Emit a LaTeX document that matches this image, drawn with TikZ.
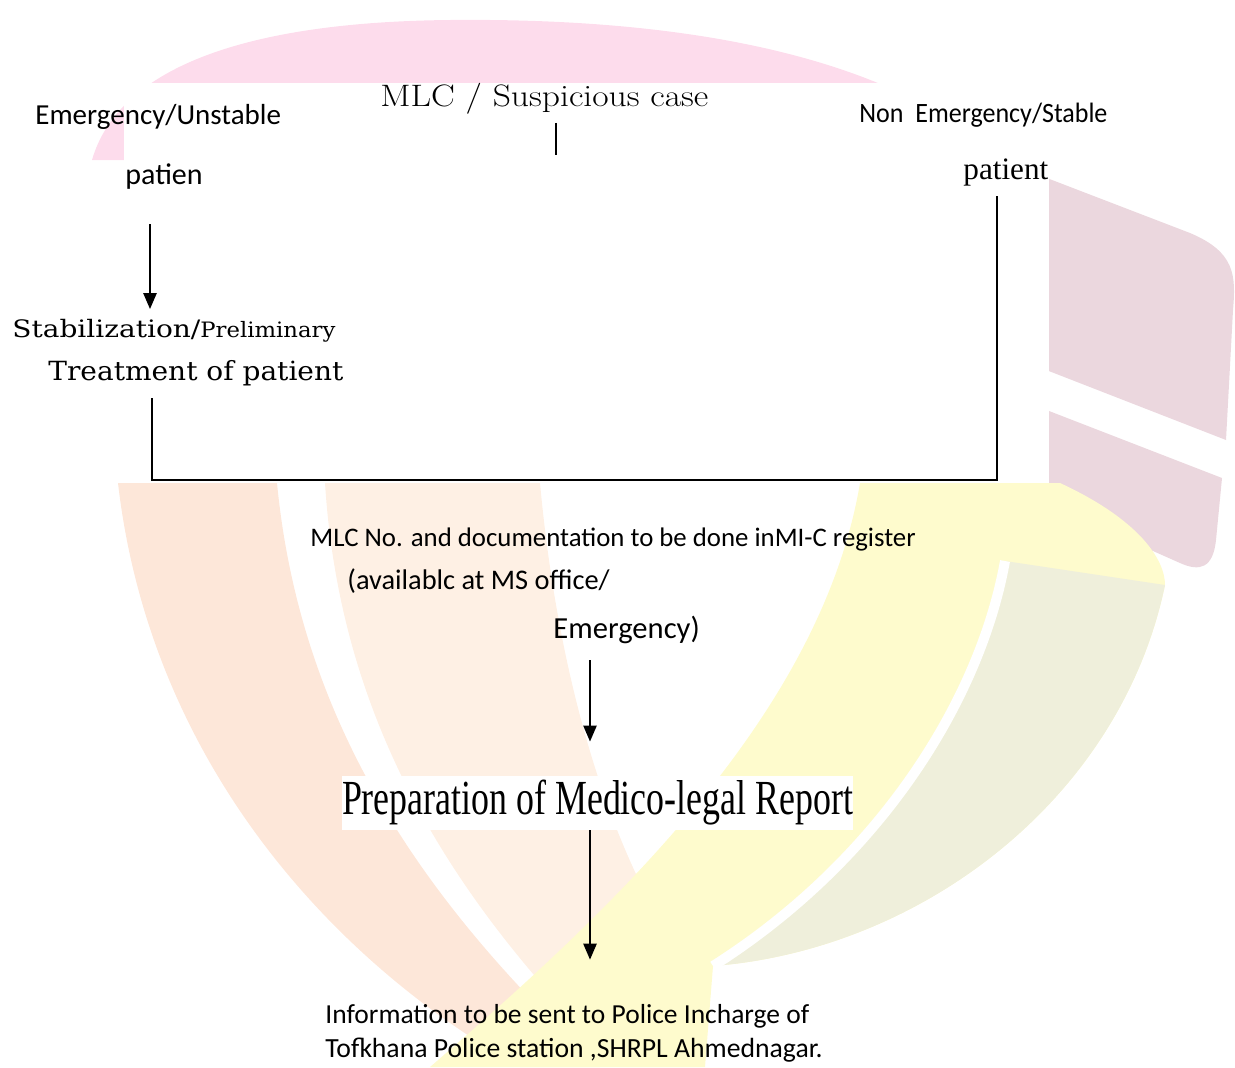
\documentclass[tikz,border=0pt]{standalone}
\usepackage{fontspec}
\setmainfont{Carlito}
\newfontfamily\tnrfont{Liberation Serif}
\newfontfamily\cmbfont{DejaVu Serif}
\newfontfamily\lmfont{Latin Modern Roman}
\usetikzlibrary{arrows.meta}
\definecolor{pinkwm}{HTML}{FDDCEC}
\definecolor{rosewm}{HTML}{EBD7DE}
\definecolor{orangewm}{HTML}{FDE7D9}
\definecolor{peachwm}{HTML}{FEF0E4}
\definecolor{yellowwm}{HTML}{FEFBCD}
\definecolor{olivewm}{HTML}{EFEFDB}
\tikzset{>={Triangle[width=6.5pt,length=8pt]}}
\tikzset{ln/.style={line width=1.4pt}, arr/.style={line width=1.2pt,->}}
\tikzset{lbl/.style={inner sep=0pt, anchor=west}}
\newcommand{\fitw}[2]{\resizebox{#1}{\height}{#2}}

\begin{document}
\begin{tikzpicture}[x=0.5pt,y=-0.5pt]
\useasboundingbox (0,0) rectangle (1235,1067);
% watermark behind the chart
\fill[pinkwm] (92,160) .. controls (118,70) and (240,22) .. (450,20) .. controls (650,18) and (800,45) .. (905,95) -- (905,200) -- (124,200) -- (124,160) -- cycle;
\fill[rosewm] (1000,160) -- (1190,233) .. controls (1235,252) and (1236,275) .. (1233,310) -- (1226,440) -- (1000,352) -- cycle;
\fill[rosewm] (1000,392) -- (1222,478) -- (1216,540) .. controls (1213,568) and (1200,572) .. (1180,563) -- (1000,483) -- cycle;
\fill[orangewm] (118,483) -- (277,483) .. controls (300,720) and (420,900) .. (600,1067) -- (520,1067) .. controls (330,960) and (150,760) .. (118,483) -- cycle;
\fill[peachwm] (325,483) -- (540,483) .. controls (560,700) and (620,880) .. (700,980) -- (700,1067) -- (620,1067) .. controls (450,900) and (340,720) .. (325,483) -- cycle;
\fill[yellowwm] (860,483) -- (1060,483) .. controls (1140,520) and (1165,560) .. (1165,585) .. controls (1120,800) and (920,950) .. (713,966) -- (705,1067) -- (430,1067) .. controls (600,920) and (820,720) .. (860,483) -- cycle;
\fill[olivewm] (1165,585) .. controls (1120,800) and (920,950) .. (713,966) .. controls (880,860) and (980,700) .. (1005,561) -- cycle;
\draw[white, line width=5pt] (1005,561) .. controls (980,700) and (880,860) .. (713,966);
\fill[white] (124,83) rectangle (1049,483);

% labels
\node[lbl, font=\fontsize{14.5}{17}\selectfont] (emL) at (35,117) {Emergency/Unstable};
\node[lbl, font=\lmfont\fontsize{15.5}{18}\selectfont] (mlc) at (380,99) {\fitw{164pt}{MLC / Suspicious case}};
\node[lbl, font=\fontsize{14}{16}\selectfont] (emR) at (859,115) {\fitw{124pt}{Non\ \ Emergency/Stable}};
\node[lbl, font=\fontsize{15}{18}\selectfont] (patL) at (125,177) {patien};
\node[lbl, font=\tnrfont\fontsize{15.6}{18}\selectfont] (patR) at (963,172) {patient};
\node[lbl, font=\cmbfont\fontsize{12}{14}\selectfont] (stab) at (12,331) {\fitw{94pt}{Stabilization/}\fitw{67.5pt}{\fontsize{10.6}{12}\selectfont Preliminary}};
\node[lbl, font=\cmbfont\fontsize{13.2}{15}\selectfont] (treat) at (48,373) {\fitw{147.5pt}{Treatment of patient}};
\node[lbl, font=\fontsize{13.4}{16}\selectfont] (doc) at (310,539) {MLC No. and documentation to be done inMI-C register};
\node[lbl, font=\fontsize{14.2}{17}\selectfont] (avail) at (347,581) {(availablc at MS office/};
\node[lbl, font=\fontsize{15.3}{18}\selectfont] (emer) at (553,630) {Emergency)};
\node[fill=white, inner sep=0pt, minimum height=27pt] (prep) at (597.5,803) {\fitw{255.5pt}{\tnrfont\fontsize{24.5}{28}\selectfont Preparation of Medico-legal Report}};
\node[lbl, font=\fontsize{13.75}{16}\selectfont] (info) at (325,1016) {Information to be sent to Police Incharge of};
\node[lbl, font=\fontsize{13.85}{16}\selectfont] (tof) at (325,1050) {Tofkhana Police station ,SHRPL Ahmednagar.};

% connectors
\coordinate (colL) at (150,0);
\coordinate (colB) at (152,480);
\coordinate (colR) at (997,480);
\coordinate (colM) at (590,0);
\coordinate (tick) at (556,155);
\draw[ln] (tick |- mlc.south) ++(0,8) -- (tick);
\draw[arr, shorten <=17pt, shorten >=5pt] (colL |- patL.south) -- (colL |- stab.north);
\draw[ln, shorten <=6pt] (colB |- treat.south) -- (colB) -- (colR) -- ([yshift=-5pt]colR |- patR.south);
\draw[arr, shorten <=8pt, shorten >=17pt] (colM |- emer.south) -- (colM |- prep.north);
\draw[arr, shorten >=22pt] (colM |- prep.south) -- (colM |- info.north);
\end{tikzpicture}
\end{document}
